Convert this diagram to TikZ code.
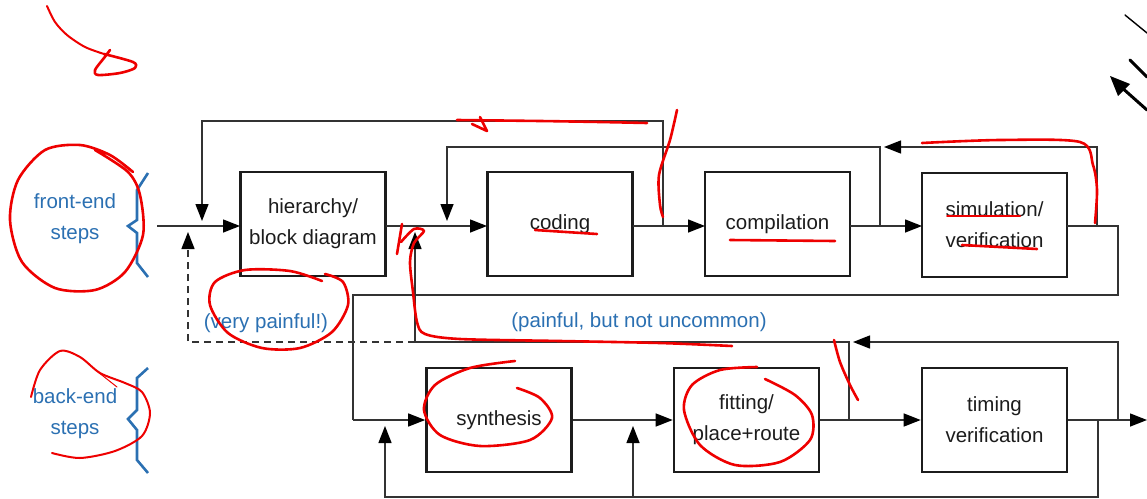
\documentclass[tikz,border=0pt]{standalone}
\usepackage{fontspec}
\setmainfont{Liberation Sans}
\usetikzlibrary{arrows.meta}
\definecolor{stepblue}{RGB}{43,112,178}
\definecolor{ink}{RGB}{28,28,28}
\definecolor{pen}{RGB}{238,0,0}

\begin{document}
\begin{tikzpicture}[x=1pt,y=-1pt,
  box/.style={draw=ink, line width=2.6pt, minimum width=145pt, minimum height=104pt,
    align=center, font=\fontsize{20.5}{31}\selectfont, text=ink, inner sep=0pt},
  wire/.style={draw=ink!90, line width=1.4pt},
  flow/.style={wire, -{Triangle[length=17pt,width=13pt,color=black]}},
  note/.style={text=stepblue, font=\fontsize{20.5}{31}\selectfont, align=center, inner sep=0pt},
  bracket/.style={draw=stepblue, line width=2.6pt, line join=miter},
  redpen/.style={draw=pen, line width=2.6pt, line cap=round, line join=round},
  blackpen/.style={draw=black, line cap=round},
]
\useasboundingbox (0,0) rectangle (1147,498);

% ---------- front-end row ----------
\node[box] (hier) at (313,224) {hierarchy/\\block diagram};
\node[box] (coding) at (560,224) {coding};
\node[box] (comp) at (777.5,224) {compilation};
\node[box] (sim) at (994.5,225) {simulation/\\verification};

% ---------- back-end row ----------
\node[box] (synth) at (499,420) {synthesis};
\node[box] (fit) at (746.5,420) {fitting/\\place+route};
\node[box] (timing) at (994.5,420) {timing\\verification};

% ---------- labels ----------
\node[note] (fe) at (75,219) {front-end\\steps};
\node[note] (be) at (75,414) {back-end\\steps};
\node[note] (vp) at (266,323) {(very painful!)};
\node[note] (pb) at (639,322) {(painful, but not uncommon)};

% brackets next to the step labels
\draw[bracket] (148,173) -- (137,190) -- (137,220) -- (128,226) -- (137,233) -- (137,263) -- (148,277);
\draw[bracket] (148,368) -- (137,378) -- (137,410) -- (128,419) -- (137,430) -- (137,460) -- (148,473);

% ---------- junction points ----------
\coordinate (in) at (157,226);
\coordinate (hin) at (240,226);
\coordinate (hout) at (386,226);
\coordinate (cin) at (487,226);
\coordinate (cout) at (633,226);
\coordinate (min) at (705,226);
\coordinate (mout) at (850,226);
\coordinate (sin) at (922,226);
\coordinate (sout) at (1067,226);
\coordinate (jc) at (663,226);
\coordinate (t1) at (202,121);
\coordinate (t1e) at (202,221);
\coordinate (jd) at (880,226);
\coordinate (t2) at (447,147);
\coordinate (t2e) at (447,221);
\coordinate (js) at (1097,226);
\coordinate (t3) at (1097,147);
\coordinate (t3e) at (884,147);
\coordinate (so) at (1118,226);
\coordinate (r1) at (1118,295);
\coordinate (r2) at (353,295);
\coordinate (r3) at (353,420);
\coordinate (out) at (1147,420);
\coordinate (jf) at (849,420);
\coordinate (p1) at (849,342);
\coordinate (p2) at (415,342);
\coordinate (p2e) at (415,232);
\coordinate (jt) at (1118,420);
\coordinate (p3) at (1118,342);
\coordinate (p3e) at (853,342);
\coordinate (d1) at (188,342);
\coordinate (d1e) at (188,232);
\coordinate (jb) at (1098,420);
\coordinate (b1) at (1098,497);
\coordinate (b2) at (385,497);
\coordinate (b2e) at (385,426);
\coordinate (b3) at (633,497);
\coordinate (b3e) at (633,426);

% ---------- forward flow ----------
\draw[flow] (in) -- (hin);
\draw[flow] (hout) -- (cin);
\draw[flow] (cout) -- (min);
\draw[flow] (mout) -- (sin);
\draw[wire] (sout) -- (so) -- (r1) -- (r2) -- (r3);
\draw[flow] (r3) -- (synth.west);
\draw[flow] (synth.east) -- (fit.west);
\draw[flow] (fit.east) -- (timing.west);
\draw[flow] (timing.east) -- (out);

% ---------- front-end iterations ----------
\draw[flow] (jc) |- (t1) -- (t1e);
\draw[flow] (jd) |- (t2) -- (t2e);
\draw[flow] (js) -- (t3) -- (t3e);

% ---------- back-end iterations ----------
\draw[flow] (jf) -- (p1) -- (p2) -- (p2e);
\draw[flow] (jt) -- (p3) -- (p3e);
\draw[flow, dashed, dash pattern=on 7pt off 5pt] (p2) -- (d1) -- (d1e);
\draw[flow] (jb) -- (b1) -- (b2) -- (b2e);
\draw[flow] (b3) -- (b3e);

% ---------- hand-drawn marks ----------
\draw[redpen, line width=2pt] plot[smooth] coordinates {(47,6) (55,22) (67,35) (85,47) (104,54)};
\draw[redpen] plot[smooth] coordinates {(110,50) (104,58) (95,70) (98,75) (120,73) (135,68) (133,62) (104,54)};

\draw[blackpen, line width=1.4pt] (1125,15) -- (1147,33);
\draw[blackpen, line width=3pt] (1130,60) -- (1147,77);
\draw[blackpen, line width=3pt] (1147,110) -- (1120,86);
\fill[black] (1110,76) -- (1130,84) -- (1118,96) -- cycle;

\draw[redpen] plot[smooth] coordinates {(133,172) (110,155) (80,145) (45,150) (18,180) (10,220) (22,262) (55,288) (95,290) (125,272) (143,235) (140,195) (128,172) (95,150)};
\draw[redpen] plot[smooth] coordinates {(322,281) (290,271) (245,270) (215,282) (210,305) (228,333) (262,348) (300,348) (332,332) (348,305) (343,282) (325,274)};
\draw[redpen, line width=2pt] plot[smooth] coordinates {(31,397) (40,370) (60,351) (80,357) (100,373) (125,383) (142,392) (150,413) (142,436) (115,451) (80,458) (52,453)};
\draw[redpen, line width=1pt] (98,372) -- (117,387);

\draw[redpen] (402,224) -- (397,254);
\draw[redpen] plot[smooth] coordinates {(401,242) (414,229) (424,231) (414,243) (410,262) (413,292) (417,322) (425,334) (460,339) (560,341) (660,343) (732,346)};

\draw[redpen] plot[smooth] coordinates {(457,120) (540,121) (600,122) (647,123)};
\draw[redpen] (480,117) -- (487,131) -- (472,124);
\draw[redpen] plot[smooth] coordinates {(677,110) (670,140) (659,175) (660,205) (663,217)};
\draw[redpen] (535,230) -- (597,234);
\draw[redpen] (730,240) -- (835,241);
\draw[redpen, line width=2pt] (947,216) -- (1020,216);
\draw[redpen] (962,245) -- (1037,249);
\draw[redpen] plot[smooth] coordinates {(922,143) (1000,140) (1080,142) (1093,165) (1097,190) (1095,223)};

\draw[redpen] plot[smooth] coordinates {(515,361) (470,368) (435,385) (424,410) (440,435) (480,446) (530,440) (552,418) (540,398) (517,388)};
\draw[redpen] plot[smooth] coordinates {(757,367) (720,370) (692,385) (684,410) (700,445) (735,465) (780,462) (810,440) (812,415) (795,395) (765,379)};
\draw[redpen] plot[smooth] coordinates {(834,340) (840,362) (850,385) (858,400)};
\end{tikzpicture}
\end{document}
